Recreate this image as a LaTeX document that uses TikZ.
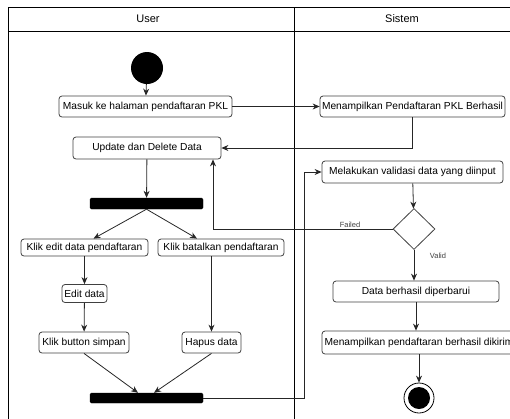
\documentclass[tikz,border=0pt]{standalone}
\usepackage{fontspec}
\setmainfont{Liberation Sans}
\usetikzlibrary{arrows.meta,shapes.geometric,calc}
\begin{document}
\begin{tikzpicture}[x=1pt,y=-1pt,
  act/.style={draw=black!75, rounded corners=3pt, font=\fontsize{10.2}{11}\selectfont, inner sep=0pt, line width=0.8pt, align=center},
  bar/.style={fill=black, draw=black, rounded corners=1.5pt, inner sep=0pt},
  arr/.style={-{Stealth[length=7pt,width=6pt]}, line width=0.8pt, draw=black!85},
  lane/.style={line width=0.8pt, draw=black},
  lbl/.style={font=\fontsize{7.5}{8}\selectfont, text=black!75, inner sep=0pt}]
\useasboundingbox (0,0) rectangle (510,418);
\clip (0,0) rectangle (510,418);
% swimlanes
\draw[lane] (8,440) -- (8,7) -- (530,7);
\draw[lane] (8,31) -- (530,31);
\draw[lane] (294,7) -- (294,440);
\node[font=\fontsize{11}{12}\selectfont] (hUser) at (148,19) {User};
\node[font=\fontsize{11}{12}\selectfont] (hSis) at (402,19) {Sistem};
% nodes
\node[circle, fill=black, minimum size=32pt, inner sep=0pt] (start) at (147,68) {};
\node[act, minimum width=173pt, minimum height=21pt] (masuk) at (145.5,106.5) {Masuk ke halaman pendaftaran PKL};
\node[act, minimum width=185pt, minimum height=21pt] (menamp1) at (412.5,106.5) {\makebox[0pt]{Menampilkan Pendaftaran PKL Berhasil}};
\node[act, minimum width=148pt, minimum height=22pt] (update) at (147,148) {Update dan Delete Data};
\node[bar, minimum width=113pt, minimum height=11pt] (fork) at (146.5,203.5) {};
\node[act, minimum width=127pt, minimum height=17pt] (edit) at (84.5,247.5) {\makebox[0pt]{Klik edit data pendaftaran}};
\node[act, minimum width=126pt, minimum height=17pt] (batal) at (221,247.5) {\makebox[0pt]{Klik batalkan pendaftaran}};
\node[act, minimum width=45pt, minimum height=18pt] (editdata) at (84.5,293.5) {Edit data};
\node[act, minimum width=90pt, minimum height=21pt] (simpan) at (84,342.5) {Klik button simpan};
\node[act, minimum width=59pt, minimum height=21pt] (hapus) at (211.5,342.5) {Hapus data};
\node[bar, minimum width=113pt, minimum height=10pt] (join) at (146.5,398) {};
\node[act, minimum width=181pt, minimum height=22pt] (valid) at (412.5,172) {\makebox[0pt]{Melakukan validasi data yang diinput}};
\node[diamond, draw=black!75, line width=0.8pt, minimum width=42pt, minimum height=41pt, inner sep=0pt] (dec) at (414,229) {};
\node[act, minimum width=166pt, minimum height=21pt] (berhasil) at (416,291.5) {Data berhasil diperbarui};
\node[act, minimum width=194pt, minimum height=23pt] (menamp2) at (419,342.5) {\makebox[0pt]{Menampilkan pendaftaran berhasil dikirim}};
\node[circle, draw=black, line width=0.8pt, minimum size=30pt, inner sep=0pt] (end) at (419,398) {};
\node[circle, fill=black, minimum size=22pt, inner sep=0pt] (endin) at (end.center) {};
% connectors
\draw[arr] (start) -- (masuk);
\draw[arr] (masuk) -- (menamp1);
\draw[arr] (menamp1.south) |- (update.east);
\draw[arr] (update) -- (fork);
\draw[arr] (fork.south) -- ([xshift=9pt]edit.north);
\draw[arr] (fork.south) -- ([xshift=-24pt]batal.north);
\draw[arr] (edit) -- (editdata);
\draw[arr] (editdata) -- (simpan);
\draw[arr] (hapus.north |- batal.south) -- (hapus.north);
\draw[arr] (simpan.south) -- ([xshift=-8.5pt]join.north);
\draw[arr] (hapus.south) -- ([xshift=7.5pt]join.north);
\coordinate (c1) at (304,172);
\draw[arr] (join.east) -| (c1) -- (valid.west);
\draw[arr] (valid) -- (dec);
\draw[arr] (dec.west) -| ([xshift=66pt]update.south);
\node[lbl] (failed) at (350,225) {Failed};
\draw[arr] (dec.south) -- (dec.south |- berhasil.north);
\node[lbl] (validlbl) at (438,256) {Valid};
\draw[arr] (berhasil.south) -- (berhasil.south |- menamp2.north);
\draw[arr] (end.north |- menamp2.south) -- (end.north);
\end{tikzpicture}
\end{document}
